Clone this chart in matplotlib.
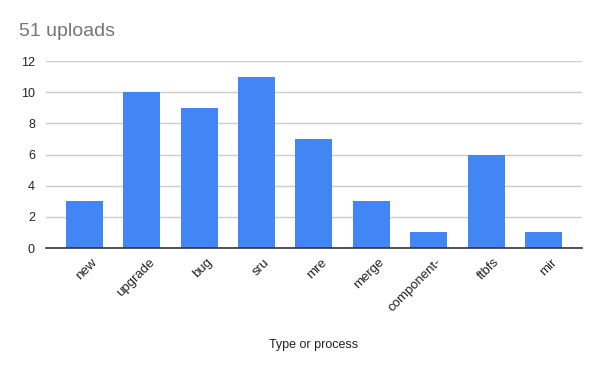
import numpy as np
import matplotlib.pyplot as plt
import matplotlib.transforms as mtransforms

categories = ['new', 'upgrade', 'bug', 'sru', 'mre', 'merge', 'component-', 'ftbfs', 'mir']
uploads = [3, 10, 9, 11, 7, 3, 1, 6, 1]

plt.rcParams['font.family'] = ['Liberation Sans', 'DejaVu Sans']

fig = plt.figure(figsize=(6, 3.71), dpi=100)
ax = fig.add_axes([0.0767, 0.3315, 0.893, 0.504])

x = np.arange(len(categories))
ax.bar(x, uploads, width=0.645, color='#4285F4', zorder=3)

ax.set_xlim(-0.67, len(categories) - 0.33)
ax.set_ylim(0, 12)
ax.set_yticks(range(0, 13, 2))
ax.set_xticks(x)
ax.set_xticklabels(categories, rotation=45, ha='right', rotation_mode='anchor', fontsize=9.5, color='#222222')
ax.tick_params(axis='y', labelsize=9, labelcolor='#222222', length=0, pad=8)
ax.tick_params(axis='x', length=0, pad=6)

# shift rotated labels a bit to the right, like the original
shift = mtransforms.ScaledTranslation(7 / 100, 0, fig.dpi_scale_trans)
for lab in ax.get_xticklabels():
    lab.set_transform(lab.get_transform() + shift)

ax.grid(axis='y', color='#cccccc', linewidth=1, zorder=0)
for s in ['top', 'right', 'left']:
    ax.spines[s].set_visible(False)
ax.spines['bottom'].set_color('#333333')
ax.spines['bottom'].set_linewidth(1.2)
ax.spines['bottom'].set_zorder(4)

ax.set_xlabel('Type or process', fontsize=9, color='#222222', labelpad=0)
ax.xaxis.set_label_coords(0.5, -0.485)

fig.text(19 / 600, 1 - 31 / 371, '51 uploads', fontsize=14, color='#757575', va='center', ha='left')

plt.savefig('out.png', dpi=100)
